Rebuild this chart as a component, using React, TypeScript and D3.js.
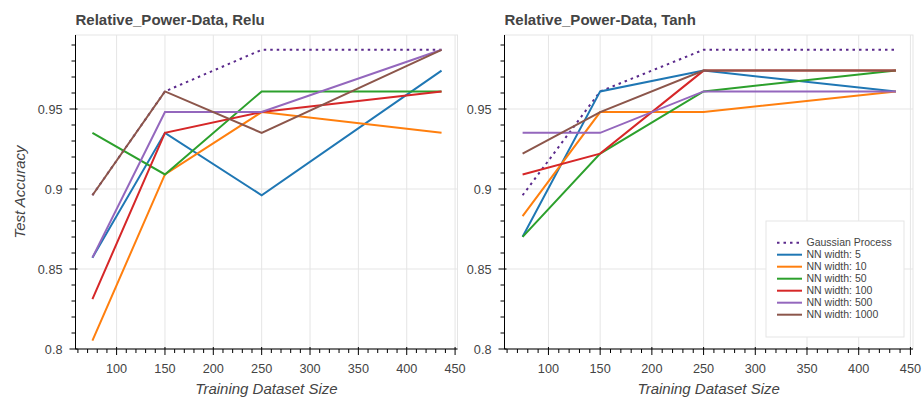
import React from "react";
import * as d3 from "d3";

// training set sizes (x) and accuracies (test set of 77 samples)
const trainSizes = [75, 150, 250, 436];

const gaussianProcess = [0.8961, 0.961, 0.987, 0.987];

const reluW5 = [0.8571, 0.9351, 0.8961, 0.974];
const reluW10 = [0.8052, 0.9091, 0.9481, 0.9351];
const reluW50 = [0.9351, 0.9091, 0.961, 0.961];
const reluW100 = [0.8312, 0.9351, 0.9481, 0.961];
const reluW500 = [0.8571, 0.9481, 0.9481, 0.987];
const reluW1000 = [0.8961, 0.961, 0.9351, 0.987];

const tanhW5 = [0.8701, 0.961, 0.974, 0.961];
const tanhW10 = [0.8831, 0.9481, 0.9481, 0.961];
const tanhW50 = [0.8701, 0.9221, 0.961, 0.974];
const tanhW100 = [0.9091, 0.9221, 0.974, 0.974];
const tanhW500 = [0.9351, 0.9351, 0.961, 0.961];
const tanhW1000 = [0.9221, 0.9481, 0.974, 0.974];

const seriesNames = ["Gaussian Process", "NN width: 5", "NN width: 10", "NN width: 50", "NN width: 100", "NN width: 500", "NN width: 1000"];
const seriesColors = ["#5b2a8c", "#1f77b4", "#ff7f0e", "#2ca02c", "#d62728", "#9467bd", "#8c564b"];

const xTickValues = [100, 150, 200, 250, 300, 350, 400, 450];
const yTickValues = [0.8, 0.85, 0.9, 0.95];
const yTickLabels = ["0.8", "0.85", "0.9", "0.95"];

const font = "'Liberation Sans', Arial, Helvetica, sans-serif";
const textColor = "#444";
const gridColor = "#e5e5e5";

const top = 35;
const bottom = 349;

function Panel(props: { x0: number; x1: number; title: string; series: number[][]; yLabel?: boolean; legend?: boolean }) {
  const { x0, x1, title, series, yLabel, legend } = props;

  const x = d3.scaleLinear().domain([57.5, 452.5]).range([x0, x1]);
  const y = d3.scaleLinear().domain([0.8, 0.99625]).range([bottom, top]);

  const line = d3.line<number>()
    .x((d, i) => x(trainSizes[i]))
    .y(d => y(d));

  const xMinor = d3.range(60, 451, 10).filter(v => v % 50 !== 0);
  const yMinor = d3.range(80, 100, 1).map(v => v / 100).filter(v => Math.round(v * 100) % 5 !== 0);

  const legendX = x1 - 147;
  const legendY = 221;

  return (
    <g>
      <text x={x0} y={24.5} fontFamily={font} fontSize={15} fontWeight="bold" fill={textColor}>{title}</text>

      <rect x={x0} y={top} width={x1 - x0} height={bottom - top} fill="white" stroke={gridColor} strokeWidth={1} />

      {/* grid */}
      {xTickValues.map(v => (
        <line key={"gx" + v} x1={x(v)} x2={x(v)} y1={top} y2={bottom} stroke={gridColor} strokeWidth={1} />
      ))}
      {yTickValues.map(v => (
        <line key={"gy" + v} x1={x0} x2={x1} y1={y(v)} y2={y(v)} stroke={gridColor} strokeWidth={1} />
      ))}

      {/* data */}
      {series.map((s, i) => (
        <path key={"s" + i} d={line(s) || ""} fill="none" stroke={seriesColors[i]}
          strokeWidth={2} strokeDasharray={i === 0 ? "2.5,4" : undefined} />
      ))}

      {/* y axis */}
      <line x1={x0} x2={x0} y1={top} y2={bottom} stroke="black" strokeWidth={1} />
      {yTickValues.map((v, i) => (
        <g key={"yt" + v}>
          <line x1={x0 - 6} x2={x0 + 2} y1={y(v)} y2={y(v)} stroke="black" />
          <text x={x0 - 13} y={y(v) + 4.5} textAnchor="end" fontFamily={font} fontSize={12.7} fill={textColor}>{yTickLabels[i]}</text>
        </g>
      ))}
      {yMinor.map(v => (
        <line key={"ym" + v} x1={x0 - 4} x2={x0} y1={y(v)} y2={y(v)} stroke="black" />
      ))}

      {/* x axis */}
      <line x1={x0} x2={x1} y1={bottom} y2={bottom} stroke="black" strokeWidth={1} />
      {xTickValues.map(v => (
        <g key={"xt" + v}>
          <line x1={x(v)} x2={x(v)} y1={bottom - 2} y2={bottom + 6} stroke="black" />
          <text x={x(v)} y={372.5} textAnchor="middle" fontFamily={font} fontSize={12.7} fill={textColor}>{v}</text>
        </g>
      ))}
      {xMinor.map(v => (
        <line key={"xm" + v} x1={x(v)} x2={x(v)} y1={bottom} y2={bottom + 4} stroke="black" />
      ))}

      <text x={(x0 + x1) / 2} y={394} textAnchor="middle" fontFamily={font} fontSize={15} fontStyle="italic" fill={textColor}>Training Dataset Size</text>
      {yLabel && (
        <text transform={`translate(25, ${(top + bottom) / 2}) rotate(-90)`} textAnchor="middle" fontFamily={font} fontSize={15} fontStyle="italic" fill={textColor}>Test Accuracy</text>
      )}

      {legend && (
        <g>
          <rect x={legendX} y={legendY} width={138} height={116} fill="white" stroke={gridColor} strokeWidth={1} />
          {seriesNames.map((name, i) => {
            const ly = legendY + 21.7 + i * 12;
            return (
              <g key={"lg" + i}>
                <line x1={legendX + 11} x2={legendX + 36} y1={ly} y2={ly} stroke={seriesColors[i]}
                  strokeWidth={2} strokeDasharray={i === 0 ? "2.5,4" : undefined} />
                <text x={legendX + 40.5} y={ly + 3.7} fontFamily={font} fontSize={10.5} fill={textColor}>{name}</text>
              </g>
            );
          })}
        </g>
      )}
    </g>
  );
}

export default function App() {
  const reluSeries = [gaussianProcess, reluW5, reluW10, reluW50, reluW100, reluW500, reluW1000];
  const tanhSeries = [gaussianProcess, tanhW5, tanhW10, tanhW50, tanhW100, tanhW500, tanhW1000];
  return (
    <svg width={922} height={400} style={{ position: "absolute", left: 0, top: 0, background: "white" }}>
      <Panel x0={75.5} x1={457.5} title="Relative_Power-Data, Relu" series={reluSeries} yLabel />
      <Panel x0={504.5} x1={913} title="Relative_Power-Data, Tanh" series={tanhSeries} legend />
    </svg>
  );
}
